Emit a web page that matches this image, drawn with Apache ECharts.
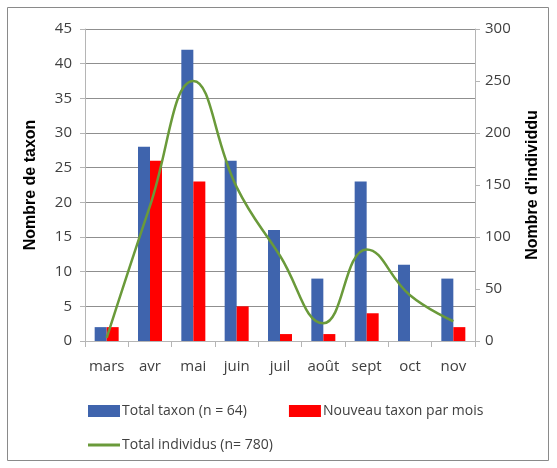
<!DOCTYPE html>
<html>
<head>
<meta charset="utf-8">
<script src="https://cdn.jsdelivr.net/npm/echarts@6/dist/echarts.min.js"></script>
<style>
  html, body { margin: 0; padding: 0; background: #fff; }
  #chart { width: 557px; height: 468px; }
</style>
</head>
<body>
<div id="chart"></div>
<script>
// mois
const months = ["mars", "avr", "mai", "juin", "juil", "août", "sept", "oct", "nov"];
// axe gauche
const totalTaxon = [2, 28, 42, 26, 16, 9, 23, 11, 9];
const nouveauTaxon = [2, 26, 23, 5, 1, 1, 4, 0, 2];
// axe droit
const totalIndividus = [3, 130, 250, 148, 82, 17, 88, 44, 19];

const font = "'Open Sans', 'Liberation Sans', sans-serif";
const txt = "#404040";

const chart = echarts.init(document.getElementById("chart"));
chart.setOption({
  animation: false,
  textStyle: { fontFamily: font },
  graphic: [{
    type: "rect",
    shape: { x: 7.5, y: 7.5, width: 541, height: 453 },
    style: { fill: "none", stroke: "#8a8a8a", lineWidth: 1 }
  }],
  grid: { left: 85, right: 82, top: 29, bottom: 127 },
  legend: [
    {
      data: ["Total taxon (n = 64)", "Nouveau taxon par mois"],
      left: 83, top: 399, itemWidth: 32, itemHeight: 12, itemGap: 42,
      icon: "rect",
      textStyle: { fontFamily: font, fontSize: 14, color: txt, padding: [0, 0, 0, -3] }
    },
    {
      data: [{ name: "Total individus (n= 780)", icon: "rect", itemStyle: { color: "#6a9a3a" } }],
      left: 83, top: 433, itemWidth: 32, itemHeight: 3,
      textStyle: { fontFamily: font, fontSize: 14, color: txt, padding: [0, 0, 0, -3] }
    }
  ],
  xAxis: {
    type: "category",
    data: months,
    axisLine: { lineStyle: { color: "#b5b5b5" } },
    axisTick: { show: true, length: 6, lineStyle: { color: "#b5b5b5" } },
    axisLabel: { color: txt, fontSize: 15, margin: 18, interval: 0, fontFamily: font }
  },
  yAxis: [
    {
      type: "value", min: 0, max: 45, interval: 5,
      name: "Nombre de taxon", nameLocation: "middle", nameGap: 46, nameRotate: 90,
      nameTextStyle: { fontWeight: "bold", fontSize: 16, color: "#000", fontFamily: "'Liberation Sans', sans-serif" },
      axisLine: { show: true, lineStyle: { color: "#b5b5b5" } },
      axisTick: { show: true, length: 5, lineStyle: { color: "#b5b5b5" } },
      axisLabel: { color: txt, fontSize: 15, margin: 13, fontFamily: font },
      splitLine: { lineStyle: { color: "#8f8f8f" } }
    },
    {
      type: "value", min: 0, max: 300, interval: 50,
      name: "Nombre d'individdu", nameLocation: "middle", nameGap: 50, nameRotate: 90,
      nameTextStyle: { fontWeight: "bold", fontSize: 16, color: "#000", fontFamily: "'Liberation Sans', sans-serif" },
      axisLine: { show: true, lineStyle: { color: "#b5b5b5" } },
      axisTick: { show: true, length: 5, lineStyle: { color: "#b5b5b5" } },
      axisLabel: { color: txt, fontSize: 15, margin: 10, fontFamily: font },
      splitLine: { show: false }
    }
  ],
  series: [
    {
      name: "Total taxon (n = 64)", type: "bar", data: totalTaxon,
      barWidth: 12, barGap: "0%",
      itemStyle: { color: "#3f64ad" }
    },
    {
      name: "Nouveau taxon par mois", type: "bar", data: nouveauTaxon,
      barWidth: 12, barGap: "0%",
      itemStyle: { color: "#ff0000" }
    },
    {
      name: "Total individus (n= 780)", type: "line", yAxisIndex: 1, data: totalIndividus,
      smooth: 0.45, showSymbol: false, symbol: "none",
      lineStyle: { color: "#6a9a3a", width: 2.5 },
      itemStyle: { color: "#6a9a3a" }
    }
  ]
});
</script>
</body>
</html>
